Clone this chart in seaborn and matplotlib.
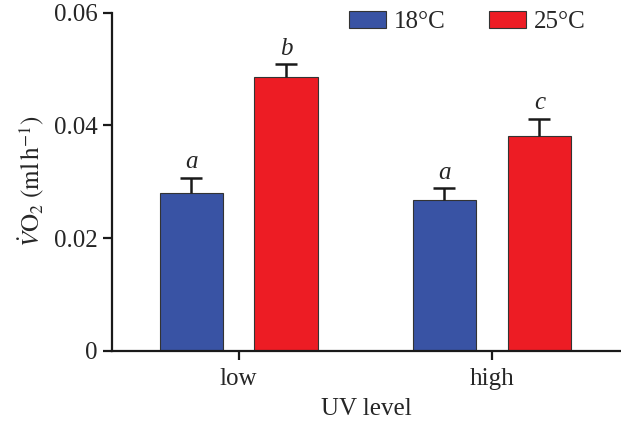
import matplotlib
matplotlib.use("Agg")
import matplotlib.pyplot as plt
import seaborn as sns
import pandas as pd

uv_levels = ["low", "high"]
temps = ["18°C", "25°C"]
means_18 = [0.0280, 0.0268]
means_25 = [0.0485, 0.0381]
sem_18 = [0.0026, 0.0020]
sem_25 = [0.0023, 0.0030]
letters_18 = ["a", "a"]
letters_25 = ["b", "c"]
y_ticks = [0, 0.02, 0.04, 0.06]
y_tick_labels = ["0", "0.02", "0.04", "0.06"]

df = pd.DataFrame({
    "UV": uv_levels * 2,
    "Temp": [temps[0]] * 2 + [temps[1]] * 2,
    "VO2": means_18 + means_25,
})
errs = {temps[0]: sem_18, temps[1]: sem_25}
letters = {temps[0]: letters_18, temps[1]: letters_25}

sns.set_style("ticks")
plt.rcParams["font.family"] = ["Liberation Serif", "DejaVu Serif"]
plt.rcParams["mathtext.fontset"] = "stix"

FS = 18

fig = plt.figure(figsize=(6.21, 4.22), dpi=100)
ax = fig.add_axes([0.1804, 0.169, 0.8196, 0.801])

palette = {"18°C": "#3953A4", "25°C": "#ED1C24"}
sns.barplot(data=df, x="UV", y="VO2", hue="Temp", order=uv_levels,
            hue_order=temps, palette=palette, width=0.75, gap=1/3,
            edgecolor="#333333", linewidth=0.8, saturation=1, ax=ax,
            errorbar=None)

cap_half = 0.043
for cont, t in zip(ax.containers, temps):
    for i, bar in enumerate(cont):
        xc = bar.get_x() + bar.get_width() / 2
        h = bar.get_height()
        e = errs[t][i]
        ax.vlines(xc, h, h + e, color="#1a1a1a", linewidth=1.8, zorder=3)
        ax.hlines(h + e, xc - cap_half, xc + cap_half, color="#1a1a1a",
                  linewidth=1.8, zorder=3)
        ax.annotate(letters[t][i], (xc, h + e), xytext=(0, 3.5),
                    textcoords="offset points", ha="center", va="bottom",
                    fontsize=FS, fontstyle="italic")

ax.set_ylim(0, 0.06)
ax.set_xlim(-0.5, 1.51)
ax.set_yticks(y_ticks)
ax.set_yticklabels(y_tick_labels)
for s in ["top", "right"]:
    ax.spines[s].set_visible(False)
for s in ["left", "bottom"]:
    ax.spines[s].set_linewidth(1.6)
    ax.spines[s].set_color("#1a1a1a")
ax.tick_params(axis="both", length=6.5, width=1.6, color="#1a1a1a",
               labelsize=FS, pad=4)
ax.tick_params(axis="x", pad=6)
ax.set_xlabel("UV level", fontsize=FS, labelpad=6)
ax.set_ylabel(r"$\dot{V}\mathrm{O}_2\ (\mathrm{ml\,h}^{-1})$", fontsize=FS,
              labelpad=5)

handles, labels = ax.get_legend_handles_labels()
ax.legend(handles, labels, loc="upper left", bbox_to_anchor=(346 / 621, 1 - 8 / 422),
          bbox_transform=fig.transFigure, ncol=2, frameon=False,
          fontsize=FS, handlelength=1.48, handleheight=0.68,
          columnspacing=1.75, handletextpad=0.32, borderaxespad=0.0,
          borderpad=0.1)

fig.savefig("out.png", dpi=100)
